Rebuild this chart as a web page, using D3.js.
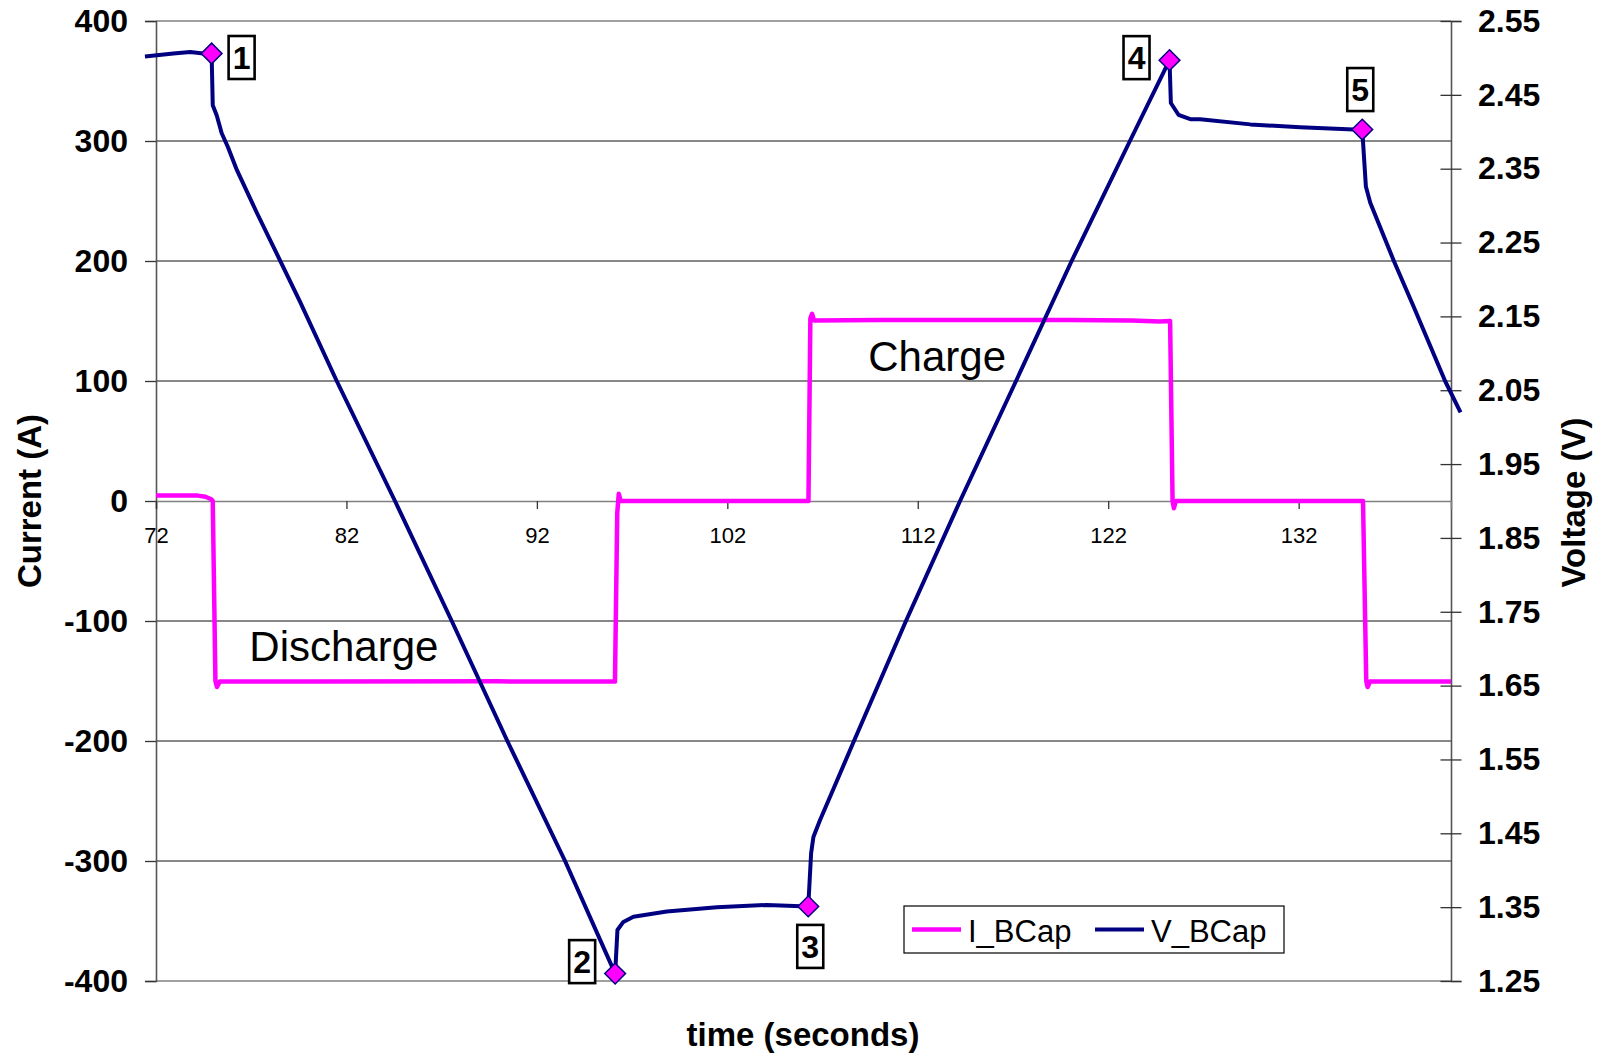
<!DOCTYPE html>
<html>
<head>
<meta charset="utf-8">
<script src="https://cdn.jsdelivr.net/npm/d3@7"></script>
<style>
  body { margin: 0; background: #fff; }
  svg { font-family: "Liberation Sans", Arial, sans-serif; }
</style>
</head>
<body>
<div id="output"></div>
<script>
// V_BCap samples (time s, volts)
const timeV = [71.42, 72.91, 73.79, 74.48, 74.92, 74.98, 75.19, 75.45, 75.78, 76.25, 77.30, 78.51, 79.56,
  81.49, 84.55, 87.53, 90.45, 93.48, 96.11, 96.23, 96.54, 97.07, 98.82, 101.45,
  104.07, 106.25, 106.40, 106.52, 106.87, 107.57, 108.65, 111.38, 114.22,
  117.16, 120.08, 123.14, 125.22, 125.29, 125.69, 126.31, 126.83, 129.46, 132.08, 134.88,
  135.34, 135.53, 135.76, 137.00, 138.04, 139.69, 140.50];
const vBCap = [2.502, 2.506, 2.508, 2.506, 2.506, 2.436, 2.422, 2.398, 2.379, 2.348, 2.290, 2.226, 2.170,
  2.0625, 1.900, 1.7375, 1.575, 1.4125, 1.260, 1.319, 1.330, 1.337, 1.344, 1.350,
  1.353, 1.351, 1.423, 1.445, 1.468, 1.510, 1.575, 1.7375, 1.900,
  2.0625, 2.225, 2.3875, 2.497, 2.439, 2.423, 2.417, 2.417, 2.410, 2.406, 2.403,
  2.403, 2.326, 2.304, 2.225, 2.163, 2.0625, 2.020];

// I_BCap samples (time s, amps)
const timeI = [72.0, 74.2, 74.6, 74.9, 74.98, 75.12, 75.2, 75.35, 80, 90, 96.1, 96.22, 96.3, 96.4, 100,
  106.26, 106.36, 106.45, 106.55, 110, 120, 123.2, 124.7, 125.25, 125.38, 125.45, 125.55, 130,
  135.38, 135.55, 135.62, 135.75, 140.0];
const iBCap = [4.5, 4.5, 3.5, 1.5, 0, -150, -155, -150.5, -150.5, -150.3, -150.5, -10, 6, 0, 0,
  0, 152, 156, 150.5, 150.8, 150.8, 150.5, 149.5, 150, 0, -6, 0, 0,
  0, -150, -155, -150.5, -150.5];

// marked points on the voltage trace
const markLabels = ['1', '2', '3', '4', '5'];
const markTime = [74.92, 96.11, 106.25, 125.22, 135.34];
const markV = [2.506, 1.260, 1.351, 2.497, 2.403];

const currentTicks = [-400, -300, -200, -100, 0, 100, 200, 300, 400];
const voltTicks = [1.25, 1.35, 1.45, 1.55, 1.65, 1.75, 1.85, 1.95, 2.05, 2.15, 2.25, 2.35, 2.45, 2.55];
const timeTicks = [72, 82, 92, 102, 112, 122, 132];
const seriesNames = ['I_BCap', 'V_BCap'];

const W = 1607, H = 1055;
const plotL = 156, plotR = 1451, plotT = 21, plotB = 981;
const pink = '#ff00ff', navy = '#000080';
const font = '"Liberation Sans", Arial, sans-serif';

const svg = d3.select('#output').append('svg').attr('width', W).attr('height', H);

const x = d3.scaleLinear().domain([72, 140]).range([plotL, plotR]);
const yI = d3.scaleLinear().domain([-400, 400]).range([plotB, plotT]);
const yV = d3.scaleLinear().domain([1.25, 2.55]).range([plotB, plotT]);

// gridlines
svg.append('g')
  .selectAll('line')
  .data(currentTicks.filter(d => d !== 0 && Math.abs(d) !== 400))
  .join('line')
  .attr('x1', plotL).attr('x2', plotR)
  .attr('y1', d => yI(d)).attr('y2', d => yI(d))
  .attr('stroke', '#111').attr('stroke-width', 1.2);

// plot border top / bottom
svg.append('g').selectAll('line').data([400, -400]).join('line')
  .attr('x1', plotL).attr('x2', plotR)
  .attr('y1', d => yI(d)).attr('y2', d => yI(d))
  .attr('stroke', '#808080').attr('stroke-width', 1.6);

// left axis
const gL = svg.append('g').attr('transform', `translate(${plotL},0)`)
  .call(d3.axisLeft(yI).tickValues(currentTicks).tickSize(11).tickPadding(17).tickFormat(d => String(d)));
gL.select('.domain').attr('stroke', '#555').attr('stroke-width', 1.6);
gL.selectAll('.tick line').attr('stroke', '#333').attr('stroke-width', 1.3);
gL.selectAll('text').attr('font-size', 32).attr('font-weight', 'bold').attr('fill', '#000')
  .attr('font-family', font);

// right axis (cross ticks)
const gR = svg.append('g').attr('transform', `translate(${plotR},0)`)
  .call(d3.axisRight(yV).tickValues(voltTicks).tickSize(10.5).tickPadding(16.5).tickFormat(d => d.toFixed(2)));
gR.select('.domain').attr('stroke', '#555').attr('stroke-width', 1.6);
gR.selectAll('.tick line').attr('x1', -10.5).attr('stroke', '#333').attr('stroke-width', 1.3);
gR.selectAll('text').attr('font-size', 32).attr('font-weight', 'bold').attr('fill', '#000')
  .attr('font-family', font);

// time axis on the zero line
const gX = svg.append('g').attr('transform', `translate(0,${yI(0)})`)
  .call(d3.axisBottom(x).tickValues(timeTicks).tickSize(8).tickPadding(18));
gX.select('.domain').attr('stroke', '#808080').attr('stroke-width', 1.6);
gX.selectAll('.tick line').attr('stroke', '#333').attr('stroke-width', 1.3);
gX.selectAll('text').attr('font-size', 22).attr('fill', '#000')
  .attr('font-family', font);

// series
const lineI = d3.line().x(d => x(d[0])).y(d => yI(d[1]));
const lineV = d3.line().x(d => x(d[0])).y(d => yV(d[1]));

svg.append('path')
  .datum(d3.zip(timeI, iBCap))
  .attr('d', lineI)
  .attr('fill', 'none').attr('stroke', pink).attr('stroke-width', 4.5)
  .attr('stroke-linejoin', 'round');

svg.append('path')
  .datum(d3.zip(timeV, vBCap))
  .attr('d', lineV)
  .attr('fill', 'none').attr('stroke', navy).attr('stroke-width', 4)
  .attr('stroke-linejoin', 'round');

// markers
const marks = markLabels.map((l, i) => ({ label: l, t: markTime[i], v: markV[i] }));
svg.append('g').selectAll('path').data(marks).join('path')
  .attr('transform', d => `translate(${x(d.t)},${yV(d.v)}) rotate(45)`)
  .attr('d', d3.symbol(d3.symbolSquare, 215))
  .attr('fill', pink).attr('stroke', navy).attr('stroke-width', 1.5);

// data labels (boxed numbers)
const labelOffset = { '1': [30, 4], '2': [-33, -12], '3': [2, 40], '4': [-33, -2.5], '5': [-2, -40] };
const lab = svg.append('g').selectAll('g').data(marks).join('g')
  .attr('transform', d => {
    const o = labelOffset[d.label];
    return `translate(${x(d.t) + o[0]},${yV(d.v) + o[1]})`;
  });
lab.append('rect')
  .attr('x', -13).attr('y', -21.5).attr('width', 26).attr('height', 43)
  .attr('fill', '#fff').attr('stroke', '#000').attr('stroke-width', 2.6);
lab.append('text')
  .attr('text-anchor', 'middle').attr('y', 11.5)
  .attr('font-size', 32).attr('font-weight', 'bold')
  .text(d => d.label);

// annotations
svg.append('text').attr('x', x(76.9)).attr('y', yI(-133.5))
  .attr('font-size', 42).text('Discharge');
svg.append('text').attr('x', x(109.4)).attr('y', yI(108.5))
  .attr('font-size', 42).text('Charge');

// axis titles
svg.append('text')
  .attr('transform', `translate(41,${(plotT + plotB) / 2}) rotate(-90)`)
  .attr('text-anchor', 'middle').attr('font-size', 33).attr('font-weight', 'bold')
  .text('Current (A)');
svg.append('text')
  .attr('transform', `translate(1585,${(plotT + plotB) / 2 + 1.5}) rotate(-90)`)
  .attr('text-anchor', 'middle').attr('font-size', 33).attr('font-weight', 'bold')
  .text('Voltage (V)');
svg.append('text')
  .attr('x', 803).attr('y', 1046)
  .attr('text-anchor', 'middle').attr('font-size', 33).attr('font-weight', 'bold')
  .text('time (seconds)');

// legend
const lg = svg.append('g').attr('transform', 'translate(904,906)');
lg.append('rect').attr('width', 380).attr('height', 47)
  .attr('fill', '#fff').attr('stroke', '#000').attr('stroke-width', 1.2);
const legendItems = [
  { name: seriesNames[0], color: pink, x0: 8, w: 4.5 },
  { name: seriesNames[1], color: navy, x0: 191, w: 4 }
];
const li = lg.selectAll('g.item').data(legendItems).join('g').attr('class', 'item')
  .attr('transform', d => `translate(${d.x0},0)`);
li.append('line').attr('x1', 0).attr('x2', 49).attr('y1', 23.5).attr('y2', 23.5)
  .attr('stroke', d => d.color).attr('stroke-width', d => d.w);
li.append('text').attr('x', 56).attr('y', 36).attr('font-size', 31).text(d => d.name);
</script>
</body>
</html>
